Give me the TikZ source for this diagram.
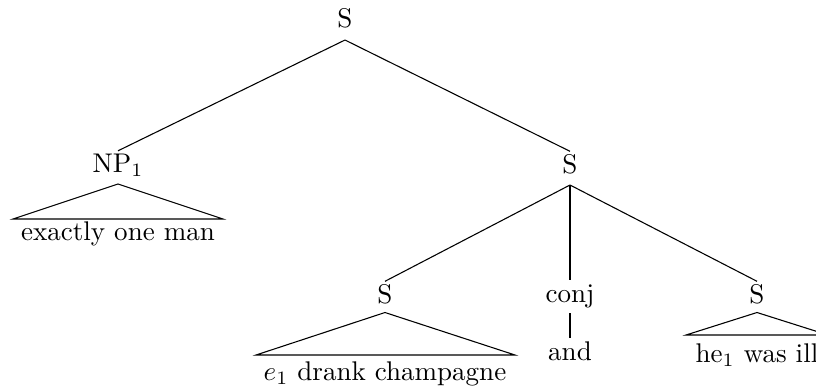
\documentclass[tikz,border=0pt]{standalone}
\begin{document}
\begin{tikzpicture}[x=0.37pt,y=-0.37pt,
  lab/.style={anchor=base,inner sep=1pt,text height=6.83pt,font=\fontsize{10}{12}\selectfont},
  leaf/.style={anchor=base,inner sep=1pt,text height=6.94pt,font=\fontsize{10}{12}\selectfont},
  br/.style={line width=0.4pt}]
\useasboundingbox (0,0) rectangle (816,385);
% labels
\node[lab] (r) at (345,27) {S};
\coordinate (rA) at (345,40);
\node[lab] (np) at (118,172.5) {NP$_1$};
\coordinate (npA) at (118,184);
\node[lab] (s1) at (570,173) {S};
\coordinate (s1A) at (570,185);
\node[lab] (s2) at (385,303) {S};
\coordinate (s2A) at (385,312.5);
\node[lab] (cj) at (570,302) {conj};
\coordinate (cjA) at (570,313);
\node[lab] (s3) at (757,303) {S};
\coordinate (s3A) at (757,312.5);
% leaves
\node[leaf] (l1) at (118,240) {exactly one man};
\node[leaf] (l2) at (385,380) {$e_1$ drank champagne};
\node[leaf] (and) at (570,360) {and};
\node[leaf] (l3) at (757,362) {he$_1$ was ill};
% roof corners
\coordinate (npL) at (13,219);
\coordinate (npR) at (223,219);
\coordinate (s2L) at (256,355);
\coordinate (s2R) at (515,355);
\coordinate (s3L) at (686,335);
\coordinate (s3R) at (828,335);
% branches
\draw[br] (rA) -- (np.north);
\draw[br] (rA) -- (s1.north);
\draw[br] (s1A) -- (s2.north);
\draw[br] (s1A) -- (cj.north);
\draw[br] (s1A) -- (s3.north);
\draw[br] (cjA) -- (and.north);
% roofs
\draw[br] (npA) -- (npL) -- (npR) -- cycle;
\draw[br] (s2A) -- (s2L) -- (s2R) -- cycle;
\draw[br] (s3A) -- (s3L) -- (s3R) -- cycle;
\end{tikzpicture}
\end{document}
